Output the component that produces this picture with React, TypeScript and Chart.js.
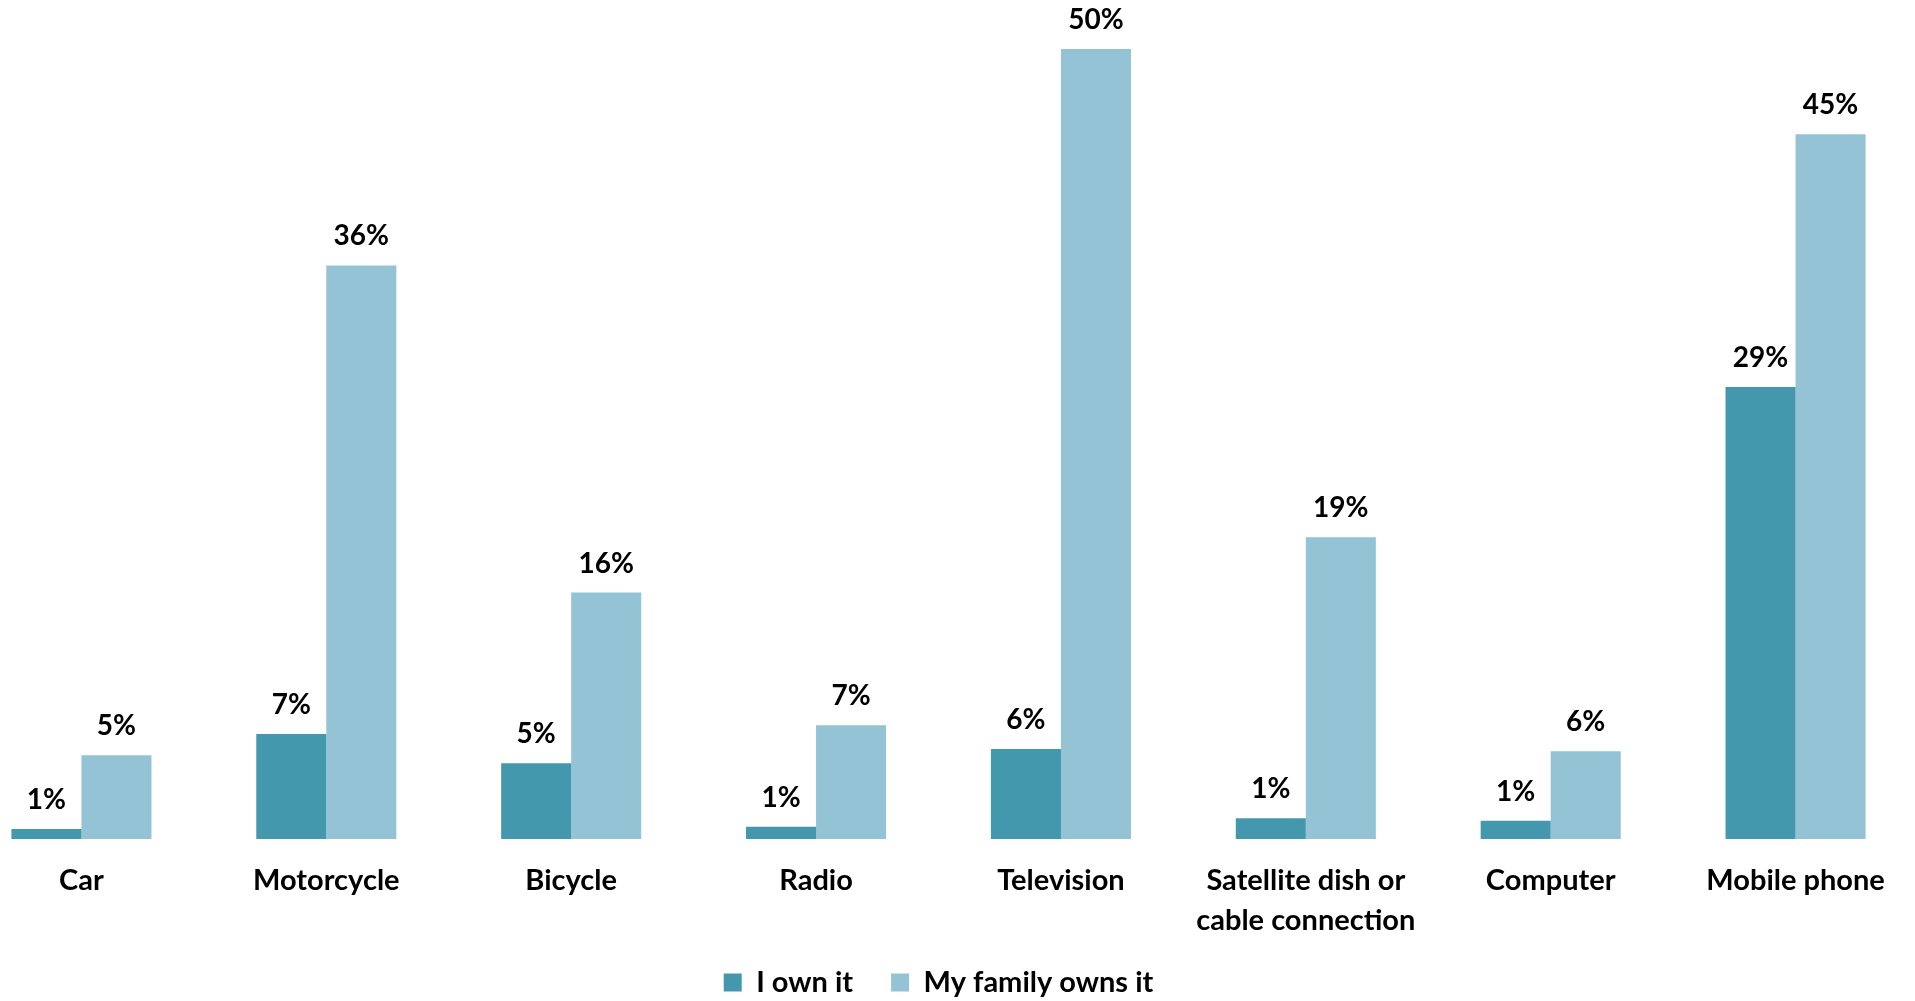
import React, { useEffect, useRef } from "react";
import { Chart, registerables } from "chart.js";

Chart.register(...registerables);

const categories: (string | string[])[] = [
  "Car",
  "Motorcycle",
  "Bicycle",
  "Radio",
  "Television",
  ["Satellite dish or", "cable connection"],
  "Computer",
  "Mobile phone",
];
const ownValues = [0.63, 6.65, 4.8, 0.77, 5.7, 1.31, 1.16, 28.6];
const familyValues = [5.3, 36.3, 15.6, 7.2, 50, 19.1, 5.56, 44.6];
const seriesNames = ["I own it", "My family owns it"];
const seriesColors = ["#4398AE", "#93C3D4"];

const FONT = "Lato, 'Open Sans', sans-serif";

const valueLabels = {
  id: "valueLabels",
  afterDatasetsDraw(chart: any) {
    const ctx = chart.ctx;
    ctx.save();
    ctx.font = `bold 28px ${FONT}`;
    ctx.fillStyle = "#000000";
    ctx.textAlign = "center";
    ctx.textBaseline = "alphabetic";
    chart.data.datasets.forEach((ds: any, di: number) => {
      const meta = chart.getDatasetMeta(di);
      meta.data.forEach((bar: any, i: number) => {
        const v = ds.data[i] as number;
        ctx.fillText(`${Math.round(v)}%`, bar.x, bar.y - 20);
      });
    });
    ctx.restore();
  },
};

export default function App() {
  const ref = useRef<HTMLCanvasElement>(null);
  useEffect(() => {
    if (!ref.current) return;
    const chart = new Chart(ref.current, {
      type: "bar",
      data: {
        labels: categories,
        datasets: [
          {
            label: seriesNames[0],
            data: ownValues,
            backgroundColor: seriesColors[0],
            borderWidth: 0,
          },
          {
            label: seriesNames[1],
            data: familyValues,
            backgroundColor: seriesColors[1],
            borderWidth: 0,
          },
        ],
      },
      options: {
        responsive: false,
        animation: false,
        devicePixelRatio: 1,
        datasets: {
          bar: { categoryPercentage: 0.572, barPercentage: 1 },
        },
        layout: { padding: { top: 49, left: 0, right: 0, bottom: 0 } },
        scales: {
          x: {
            grid: { display: false, drawTicks: false },
            border: { display: false },
            afterFit(scale: any) {
              scale.height = 91;
            },
            ticks: {
              autoSkip: false,
              maxRotation: 0,
              minRotation: 0,
              padding: 21,
              color: "#000000",
              font: { family: FONT, size: 29, weight: "bold", lineHeight: 1.39 },
            },
          },
          y: {
            display: false,
            min: 0,
            max: 50,
          },
        },
        plugins: {
          legend: {
            position: "bottom",
            labels: {
              boxWidth: 18,
              boxHeight: 18,
              padding: 38,
              color: "#000000",
              font: { family: FONT, size: 29, weight: "bold" },
            },
          },
          tooltip: { enabled: false },
        },
      },
      plugins: [valueLabels],
    });
    return () => chart.destroy();
  }, []);
  return (
    <div
      style={{
        position: "absolute",
        left: 0,
        top: 0,
        width: 1915,
        height: 1001,
        overflow: "hidden",
        background: "#ffffff",
      }}
    >
      <canvas
        ref={ref}
        width={1959}
        height={1007}
        style={{ position: "absolute", left: -41, top: 0 }}
      />
    </div>
  );
}
